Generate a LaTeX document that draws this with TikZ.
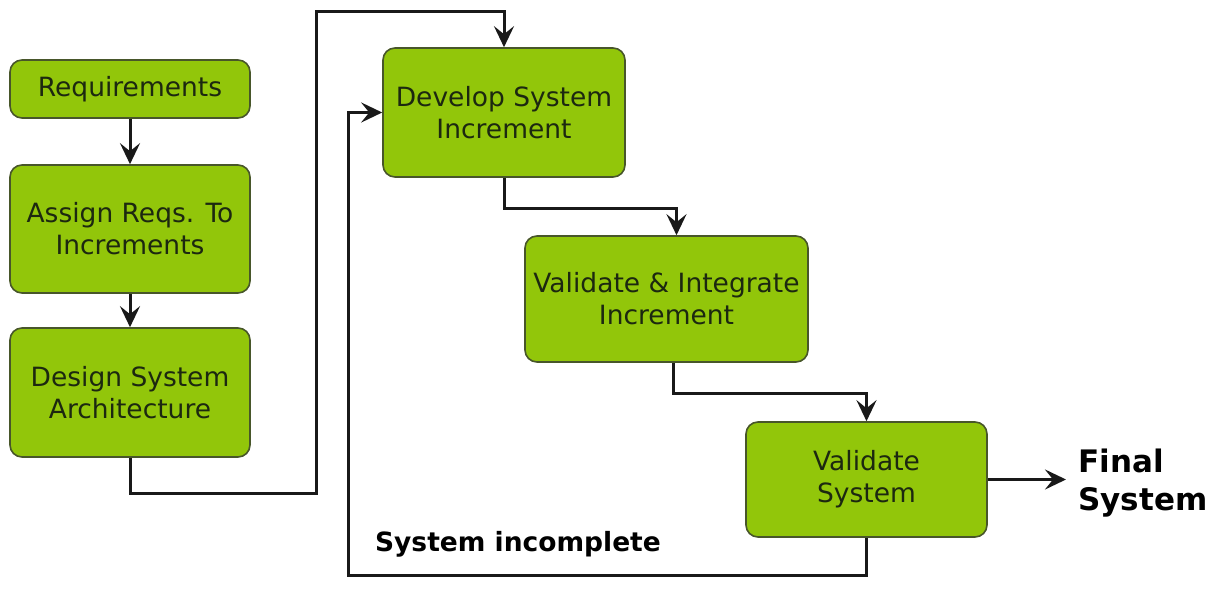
\documentclass[tikz,border=0pt]{standalone}
\usepackage{fontspec}
\setmainfont{DejaVu Sans}
\usetikzlibrary{arrows.meta}
\definecolor{boxfill}{RGB}{146,198,10}
\definecolor{boxline}{RGB}{72,86,42}
\definecolor{boxtext}{RGB}{28,40,16}
\begin{document}
\begin{tikzpicture}[x=1pt,y=-1pt,
  stepbox/.style={draw=boxline, line width=1.6pt, fill=boxfill,
    rounded corners=12pt, text=boxtext, align=center,
    font=\fontsize{26.5}{32}\selectfont, inner sep=0pt},
  flow/.style={line width=3pt, draw=black!90, line join=miter,
    -{Stealth[length=21pt,width=20pt,inset=8pt]}}]
\useasboundingbox (0,0) rectangle (1215,591);
\fill[white] (0,0) rectangle (1215,591);

% process steps
\node[stepbox, minimum width=240pt, minimum height=58pt]  (req)    at (130,89)    {Requirements};
\node[stepbox, minimum width=240pt, minimum height=128pt] (assign) at (130,229)   {Assign Reqs. To\\Increments};
\node[stepbox, minimum width=240pt, minimum height=129pt] (arch)   at (130,392.5) {Design System\\Architecture};
\node[stepbox, minimum width=242pt, minimum height=129pt] (dev)    at (504,112.5) {Develop System\\Increment};
\node[stepbox, minimum width=283pt, minimum height=126pt] (vi)     at (666.5,299) {Validate \& Integrate\\Increment};
\node[stepbox, minimum width=241pt, minimum height=115pt] (vs)     at (866.5,479.5) {Validate\\System};

% labels
\node[anchor=west, inner sep=0pt, align=left, font=\bfseries\fontsize{31}{38}\selectfont] (fin) at (1078,483) {Final\\System};
\node[inner sep=0pt, font=\bfseries\fontsize{26.5}{30}\selectfont] (inc) at (518,544) {System incomplete};

% routing points
\coordinate (a1) at (130,493);
\coordinate (a2) at (316,12);
\coordinate (d1) at (504,208);
\coordinate (v1) at (673,393);
\coordinate (fbl) at (348,575);
\coordinate (fbu) at (348,112.5);
\coordinate (fe) at (1066,479.5);

% connectors
\draw[flow] (req.south) -- (assign.north);
\draw[flow] (assign.south) -- (arch.north);
\draw[flow] (arch.south) -- (a1) -| (a2) -| (dev.north);
\draw[flow] (dev.south) -- (d1) -| ([xshift=10pt]vi.north);
\draw[flow] ([xshift=6.5pt]vi.south) -- (v1) -| (vs.north);
\draw[flow] (vs.south) |- (fbl) -- (fbu) -- (dev.west);
\draw[flow] (vs.east) -- (fe);
\end{tikzpicture}
\end{document}
